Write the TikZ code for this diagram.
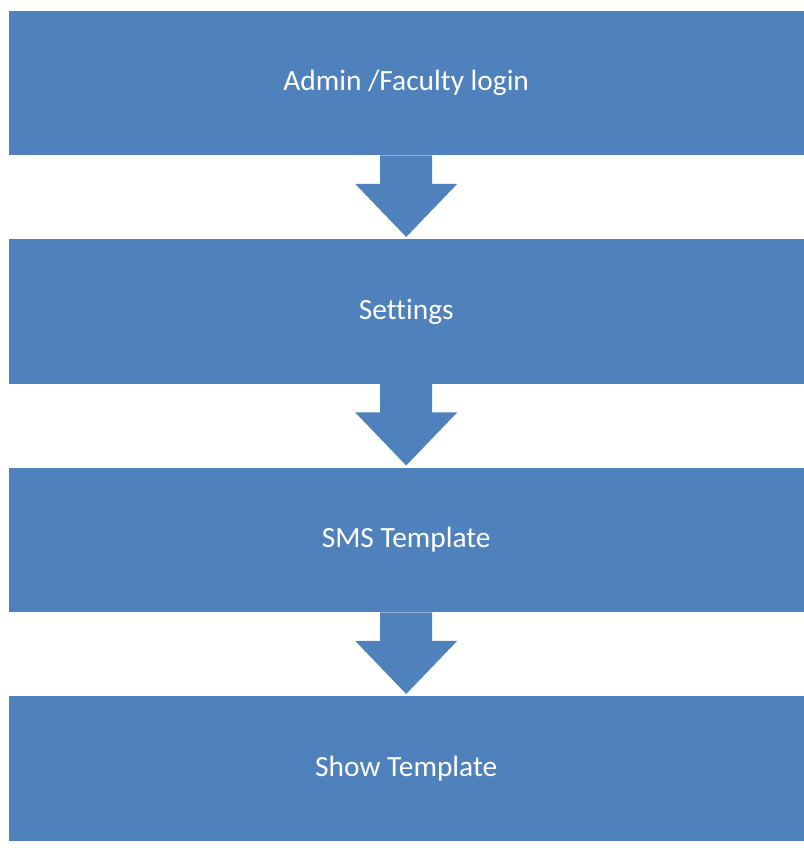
\documentclass[tikz,border=0pt]{standalone}
\usepackage{fontspec}
\setmainfont{Carlito}[Ligatures={NoCommon}]
\usetikzlibrary{calc}
\definecolor{boxblue}{HTML}{4F81BD}
\begin{document}
\begin{tikzpicture}[x=1pt,y=-1pt,
  stagebox/.style={fill=boxblue,draw=none,minimum width=795pt,minimum height=144.5pt,inner sep=0pt,text=white,font=\fontsize{29.4}{34}\selectfont,anchor=north west},
  blockarrow/.style={fill=boxblue,draw=none}]
\useasboundingbox (0,0) rectangle (803,851);
\node[stagebox] (b1) at (8.5,10.5) {Admin /Faculty login};
\node[stagebox] (b2) at (8.5,239) {Settings};
\node[stagebox] (b3) at (8.5,467.5) {SMS Template};
\node[stagebox] (b4) at (8.5,696) {Show Template};
\foreach \a/\b in {b1/b2,b2/b3,b3/b4}{
  \coordinate (s) at (\a.south);
  \coordinate (t) at (\b.north);
  \fill[blockarrow] ($(s)+(-26,0)$) -- ($(s)+(26,0)$) -- ($(s)+(26,28.5)$) -- ($(s)+(51,28.5)$)
     -- ($(t)+(0,-2)$) -- ($(s)+(-51,28.5)$) -- ($(s)+(-26,28.5)$) -- cycle;
}
\end{tikzpicture}
\end{document}
